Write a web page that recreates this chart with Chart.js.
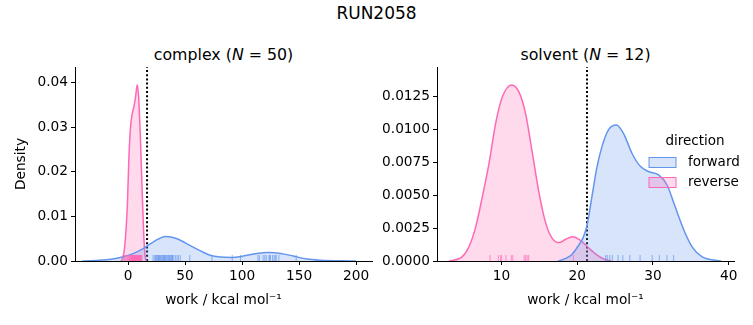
<!DOCTYPE html>
<html>
<head>
<meta charset="utf-8">
<script src="https://cdn.jsdelivr.net/npm/chart.js@4.4.1/dist/chart.umd.min.js"></script>
<style>
  body { margin: 0; background: #fff; width: 753px; height: 325px; overflow: hidden; position: relative; font-family: 'DejaVu Sans', sans-serif; color: #000; }
  #suptitle { position: absolute; left: 0; width: 753px; top: 3px; text-align: center; font-size: 17px; }
  .title { position: absolute; top: 45px; font-size: 15.8px; text-align: center; white-space: nowrap; }
  canvas { position: absolute; top: 0; }
</style>
</head>
<body>
<div id="suptitle">RUN2058</div>
<div class="title" style="left:75px;width:297px">complex (<i>N</i> = 50)</div>
<div class="title" style="left:437px;width:297px">solvent (<i>N</i> = 12)</div>
<canvas id="complexChart" width="376" height="325" style="left:0"></canvas>
<canvas id="solventChart" width="377" height="325" style="left:376px"></canvas>
<script>
// density curves: [work, density]
const complexForward = [
  [-40, 0], [-33, 0.00005], [-25, 0.00015], [-15, 0.0004], [-5, 0.0009], [5, 0.0017],
  [14, 0.0029], [23, 0.0044], [33, 0.0055], [43, 0.0050], [55, 0.0034], [64, 0.0022],
  [72, 0.0013], [81, 0.0009], [91, 0.0008], [101, 0.0011], [113, 0.0017], [123, 0.0019],
  [134, 0.0017], [145, 0.0011], [157, 0.00045], [169, 0.00018], [186, 0.00003], [200, 0]
];
const complexReverse = [
  [-6, 0], [-4.5, 0.0008], [-3, 0.003], [-1.5, 0.008], [-0.5, 0.013], [0.7, 0.0226],
  [2.2, 0.030], [3.7, 0.033], [5.1, 0.0345], [6.6, 0.0368], [8.1, 0.0395], [9.5, 0.036],
  [11, 0.0265], [12.5, 0.015], [13.9, 0.0054], [15, 0.001], [16, 0]
];
const solventForward = [
  [17.5, 0], [18.5, 0.0002], [19.3, 0.0005], [20.2, 0.0012], [20.8, 0.0018], [21.3, 0.0027],
  [21.95, 0.0049], [22.6, 0.0071], [23.27, 0.0087], [24.15, 0.0100], [25.17, 0.01035],
  [26.13, 0.0097], [27.23, 0.0082], [28.34, 0.0072], [29.43, 0.0068], [30.75, 0.00655],
  [31.85, 0.0058], [32.95, 0.0041], [34.05, 0.0024], [35.15, 0.0011], [36.46, 0.00033],
  [38.2, 0.00005], [39, 0]
];
const solventReverse = [
  [3.1, 0], [4.85, 0.00033], [5.73, 0.0011], [6.61, 0.0026], [7.49, 0.0049], [8.36, 0.0074],
  [9.25, 0.0105], [10.13, 0.0125], [11.36, 0.0134], [12.28, 0.0129], [13.2, 0.0112],
  [14.09, 0.0082], [14.96, 0.0052], [15.84, 0.0029], [16.73, 0.0017], [17.6, 0.0014],
  [18.48, 0.00165], [19.45, 0.00185], [20.46, 0.00155], [21.56, 0.00097], [22.5, 0.0005],
  [23.5, 0.00015], [24.5, 0]
];

// individual work values (rug)
const complexForwardRug = [
  22.0, 23.5, 24.0, 24.5, 25.3, 26.0, 26.8, 27.1, 27.5, 28.4, 29.0, 29.8, 30.5, 31.2, 31.6,
  32.0, 32.8, 33.5, 34.2, 35.0, 35.9, 36.0, 36.5, 37.4, 38.2, 38.7, 39.0, 40.1, 41.5, 43.0,
  44.2, 45.8, 54.2, 73.6, 91.4, 98.7, 114.0, 115.2, 118.5, 120.0, 121.3, 123.6, 124.3, 125.0,
  126.8, 128.2, 129.1, 130.0, 132.3, 147.5
];
const complexReverseRug = [
  -4.2, -3.0, -2.1, -1.0, -0.4, 0.3, 0.9, 1.4, 1.8, 2.2, 2.7, 3.0, 3.3, 3.6, 3.9, 4.0, 4.2,
  4.5, 4.8, 5.1, 5.4, 5.7, 5.9, 6.0, 6.2, 6.4, 6.5, 6.8, 7.0, 7.2, 7.5, 7.7, 7.9, 8.0, 8.1,
  8.3, 8.5, 8.7, 8.9, 9.1, 9.3, 9.6, 9.9, 10.2, 10.5, 10.8, 11.1, 11.4, 11.8, 12.1
];
const solventForwardRug = [23.75, 23.97, 24.3, 24.64, 25.4, 26.03, 26.95, 28.3, 29.9, 30.85, 31.85, 32.73];
const solventReverseRug = [8.5, 9.6, 9.9, 10.0, 10.6, 11.3, 11.5, 13.0, 13.2, 13.4, 13.6, 19.5];

// dotted reference line
const complexLine = 16.7;
const solventLine = 21.3;

// axes
const complexXTicks = [0, 50, 100, 150, 200];
const complexYTicks = [0, 0.01, 0.02, 0.03, 0.04];
const solventXTicks = [10, 20, 30, 40];
const solventYTicks = [0, 0.0025, 0.005, 0.0075, 0.01, 0.0125];

const directions = ['forward', 'reverse'];
const blue = '100, 149, 237';
const pink = '255, 105, 180';

const fontFamily = "'DejaVu Sans', sans-serif";
Chart.defaults.font.family = fontFamily;
Chart.defaults.color = '#000';

const toPoints = arr => arr.map(p => ({ x: p[0], y: p[1] }));

const rugPlugin = {
  id: 'rug',
  afterDatasetsDraw(chart, args, opts) {
    const { ctx, chartArea, scales } = chart;
    ctx.save();
    ctx.lineWidth = 1;
    opts.sets.forEach(set => {
      ctx.strokeStyle = 'rgba(' + set.color + ', 0.7)';
      set.values.forEach(v => {
        const px = scales.x.getPixelForValue(v);
        ctx.beginPath();
        ctx.moveTo(px, chartArea.bottom);
        ctx.lineTo(px, chartArea.bottom - 6);
        ctx.stroke();
      });
    });
    ctx.restore();
  }
};

const legendPlugin = {
  id: 'sideLegend',
  afterDraw(chart, args, opts) {
    if (!opts.show) return;
    const { ctx, chartArea } = chart;
    const left = chartArea.right - 85;
    ctx.save();
    ctx.font = '13.5px ' + fontFamily;
    ctx.fillStyle = '#000';
    ctx.textBaseline = 'middle';
    ctx.textAlign = 'center';
    ctx.fillText('direction', left + 46, 141);
    [blue, pink].forEach((c, i) => {
      const top = 157.5 + i * 20;
      ctx.fillStyle = 'rgba(' + c + ', 0.25)';
      ctx.fillRect(left, top, 27, 10);
      ctx.strokeStyle = 'rgb(' + c + ')';
      ctx.lineWidth = 1;
      ctx.strokeRect(left, top, 27, 10);
      ctx.fillStyle = '#000';
      ctx.textAlign = 'left';
      ctx.fillText(directions[i], left + 39, top + 5);
    });
    ctx.restore();
  }
};

function makeChart(canvas, cfg) {
  const axisFont = { size: 13.7, family: fontFamily };
  new Chart(canvas, {
    type: 'line',
    data: {
      datasets: [
        {
          label: directions[0],
          data: toPoints(cfg.forward),
          borderColor: 'rgb(' + blue + ')',
          backgroundColor: 'rgba(' + blue + ', 0.25)',
          borderWidth: 1.5,
          fill: 'origin',
          pointRadius: 0,
          tension: 0.4,
          cubicInterpolationMode: 'monotone'
        },
        {
          label: directions[1],
          data: toPoints(cfg.reverse),
          borderColor: 'rgb(' + pink + ')',
          backgroundColor: 'rgba(' + pink + ', 0.25)',
          borderWidth: 1.5,
          fill: 'origin',
          pointRadius: 0,
          tension: 0.4,
          cubicInterpolationMode: 'monotone'
        },
        {
          label: 'line',
          data: [{ x: cfg.line, y: 0 }, { x: cfg.line, y: cfg.yMax }],
          borderColor: '#000',
          borderWidth: 2,
          borderDash: [2, 2.2],
          borderCapStyle: 'butt',
          pointRadius: 0,
          fill: false
        }
      ]
    },
    options: {
      responsive: false,
      animation: false,
      layout: { padding: { top: 67, right: cfg.padRight, left: 0, bottom: 0 } },
      scales: {
        x: {
          type: 'linear',
          min: cfg.xMin,
          max: cfg.xMax,
          afterBuildTicks: s => { s.ticks = cfg.xTicks.map(v => ({ value: v })); },
          afterFit: s => { s.height = 64; },
          border: { display: true, color: '#000', width: 1 },
          grid: { display: true, drawOnChartArea: false, drawTicks: true, tickLength: 4, color: '#000' },
          ticks: { color: '#000', font: axisFont, padding: 3, maxRotation: 0, autoSkip: false },
          title: { display: true, text: 'work / kcal mol⁻¹', color: '#000', font: axisFont, padding: { top: 0, bottom: 16 } }
        },
        y: {
          type: 'linear',
          min: 0,
          max: cfg.yMax,
          afterBuildTicks: s => { s.ticks = cfg.yTicks.map(v => ({ value: v })); },
          afterFit: s => { s.width = cfg.yWidth; },
          border: { display: true, color: '#000', width: 1 },
          grid: { display: true, drawOnChartArea: false, drawTicks: true, tickLength: 4, color: '#000' },
          ticks: {
            color: '#000', font: axisFont, padding: 3,
            callback: v => v.toFixed(cfg.decimals)
          },
          title: { display: cfg.yTitle !== '', text: cfg.yTitle, color: '#000', font: axisFont, padding: { top: 13, bottom: 0 } }
        }
      },
      plugins: {
        legend: { display: false },
        tooltip: { enabled: false },
        rug: {
          sets: [
            { values: cfg.forwardRug, color: blue },
            { values: cfg.reverseRug, color: pink }
          ]
        },
        sideLegend: { show: cfg.legend }
      }
    },
    plugins: [rugPlugin, legendPlugin]
  });
}

makeChart(document.getElementById('complexChart'), {
  forward: complexForward, reverse: complexReverse,
  forwardRug: complexForwardRug, reverseRug: complexReverseRug,
  line: complexLine, xMin: -46.5, xMax: 214, yMax: 0.0435,
  xTicks: complexXTicks, yTicks: complexYTicks, decimals: 2,
  yWidth: 75, padRight: 4, yTitle: 'Density', legend: false
});

makeChart(document.getElementById('solventChart'), {
  forward: solventForward, reverse: solventReverse,
  forwardRug: solventForwardRug, reverseRug: solventReverseRug,
  line: solventLine, xMin: 1.5, xMax: 40.7, yMax: 0.01476,
  xTicks: solventXTicks, yTicks: solventYTicks, decimals: 4,
  yWidth: 61, padRight: 19, yTitle: '', legend: true
});
</script>
</body>
</html>
